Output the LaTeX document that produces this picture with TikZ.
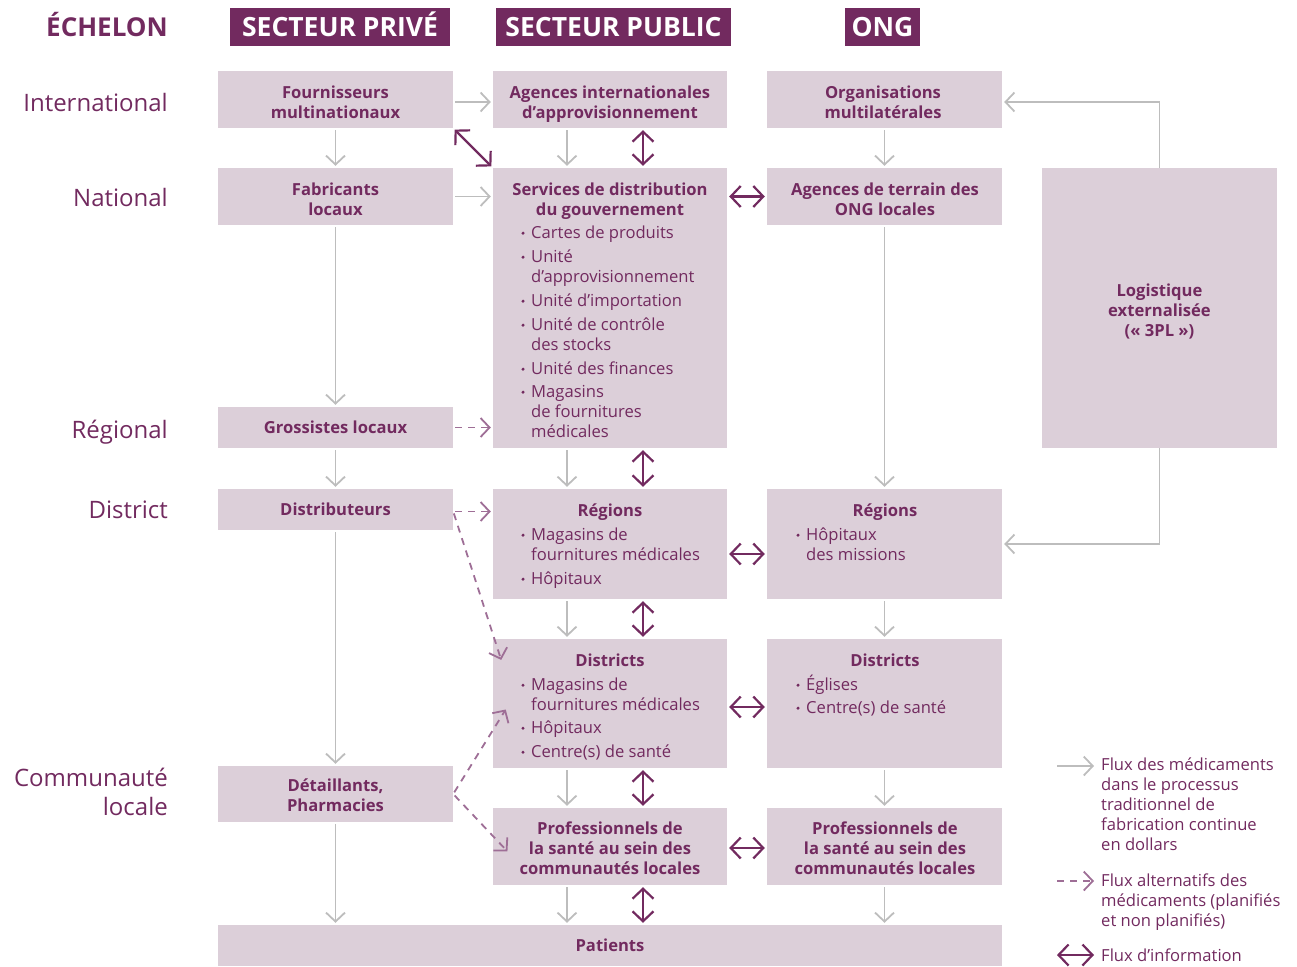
\documentclass[tikz,border=0pt]{standalone}
\usepackage{fontspec}
\setmainfont{Open Sans}
\usetikzlibrary{arrows.meta,calc}
\definecolor{dpurp}{HTML}{722A5F}
\definecolor{boxfill}{HTML}{DCCFD9}
\definecolor{flowgray}{HTML}{BDBDBD}
\definecolor{altpurp}{HTML}{9E6E96}
\newcommand{\bitem}[3]{\fill[dpurp] (#1-8,#2-4.8) circle (1.7pt); \node[btxt] at (#1,#2) {#3};}
\newcommand{\bcont}[3]{\node[btxt] at (#1,#2) {#3};}
\begin{document}
\begin{tikzpicture}[x=1pt,y=-1pt,
  box/.style={fill=boxfill,draw=none,inner sep=0pt},
  hdr/.style={fill=dpurp,draw=none,inner sep=0pt},
  hdrtxt/.style={anchor=base,text=white,inner sep=0pt,font=\fontsize{26.5}{30}\selectfont\bfseries},
  lvl/.style={anchor=base east,text=dpurp,inner sep=0pt,font=\fontsize{24}{29}\selectfont},
  btxt/.style={anchor=base west,text=dpurp,inner sep=0pt,font=\fontsize{16.6}{20}\selectfont},
  ttl/.style={anchor=base,text=dpurp,inner sep=0pt,font=\fontsize{16.6}{20}\selectfont\bfseries},
  flow/.style={draw=flowgray,line width=1.8pt,-{Straight Barb[length=9pt,width=19pt,line width=1.8pt]},shorten <=2pt,shorten >=2pt},
  alt/.style={draw=altpurp,line width=1.8pt,dash pattern=on 7pt off 6pt,-{Straight Barb[length=9pt,width=19pt,line width=1.8pt]},shorten <=2pt,shorten >=2pt},
  info/.style={draw=dpurp,line width=2.2pt,{Straight Barb[length=10pt,width=21pt,line width=2.2pt]}-{Straight Barb[length=10pt,width=21pt,line width=2.2pt]},shorten <=2pt,shorten >=2pt}
]
\useasboundingbox (0,0) rectangle (1297,966);
% headers
\node[anchor=base east,text=dpurp,inner sep=0pt,font=\fontsize{26}{30}\selectfont\bfseries] (ech) at (168,37) {ÉCHELON};
\node[hdr,minimum width=220pt,minimum height=38pt] (hpriv) at (340,27) {};
\node[hdr,minimum width=235pt,minimum height=38pt] (hpub) at (613.5,27) {};
\node[hdr,minimum width=75pt,minimum height=38pt] (hong) at (882.5,27) {};
\node[hdrtxt] at (340,36.5) {SECTEUR PRIVÉ};
\node[hdrtxt] at (613.5,36.5) {SECTEUR PUBLIC};
\node[hdrtxt] at (882.5,36.5) {ONG};
% level labels
\node[lvl] (lint) at (168,111) {International};
\node[lvl] (lnat) at (168,206) {National};
\node[lvl] (lreg) at (168,438) {Régional};
\node[lvl] (ldis) at (168,518) {District};
\node[lvl] (lcom1) at (168,786) {Communauté};
\node[lvl] (lcom2) at (168,815) {locale};
% boxes
\node[box,minimum width=235pt,minimum height=57pt] (fm) at (335.5,99.5) {};
\node[box,minimum width=234pt,minimum height=57pt] (ai) at (610,99.5) {};
\node[box,minimum width=235pt,minimum height=57pt] (om) at (884.5,99.5) {};
\node[box,minimum width=235pt,minimum height=57pt] (fl) at (335.5,196.5) {};
\node[box,minimum width=234pt,minimum height=280pt] (sd) at (610,308) {};
\node[box,minimum width=235pt,minimum height=57pt] (at) at (884.5,196.5) {};
\node[box,minimum width=235pt,minimum height=280pt] (lg) at (1159.5,308) {};
\node[box,minimum width=235pt,minimum height=41pt] (gl) at (335.5,427.5) {};
\node[box,minimum width=235pt,minimum height=41pt] (di) at (335.5,509.5) {};
\node[box,minimum width=234pt,minimum height=110pt] (rp) at (610,544) {};
\node[box,minimum width=235pt,minimum height=110pt] (ro) at (884.5,544) {};
\node[box,minimum width=234pt,minimum height=129pt] (dp) at (610,703.5) {};
\node[box,minimum width=235pt,minimum height=129pt] (do) at (884.5,703.5) {};
\node[box,minimum width=235pt,minimum height=56pt] (dt) at (335.5,794) {};
\node[box,minimum width=234pt,minimum height=77pt] (pp) at (610,846.5) {};
\node[box,minimum width=235pt,minimum height=77pt] (po) at (884.5,846.5) {};
\node[box,minimum width=784pt,minimum height=41pt] (pa) at (610,945.5) {};
% box texts
\node[ttl] at (335.5,98) {Fournisseurs};
\node[ttl] at (335.5,118) {multinationaux};
\node[ttl] at (610,98) {Agences internationales};
\node[ttl] at (610,118) {d’approvisionnement};
\node[ttl] at (883,98) {Organisations};
\node[ttl] at (883,118) {multilatérales};
\node[ttl] at (335.5,195) {Fabricants};
\node[ttl] at (335.5,215) {locaux};
\node[ttl] at (885,195) {Agences de terrain des};
\node[ttl] at (885,215) {ONG locales};
\node[ttl] at (335.5,433) {Grossistes locaux};
\node[ttl] at (335.5,515) {Distributeurs};
\node[ttl] at (335.5,791) {Détaillants,};
\node[ttl] at (335.5,811) {Pharmacies};
\node[ttl] at (610,195) {Services de distribution};
\node[ttl] at (610,215) {du gouvernement};
\bitem{531}{238}{Cartes de produits}
\bitem{531}{262}{Unité}
\bcont{531}{282}{d’approvisionnement}
\bitem{531}{306}{Unité d’importation}
\bitem{531}{330}{Unité de contrôle}
\bcont{531}{350}{des stocks}
\bitem{531}{374}{Unité des finances}
\bitem{531}{397}{Magasins}
\bcont{531}{417}{de fournitures}
\bcont{531}{437}{médicales}
\node[ttl] at (1159.5,296) {Logistique};
\node[ttl] at (1159.5,316) {externalisée};
\node[ttl] at (1159.5,336) {(« 3PL »)};
\node[ttl] at (610,516) {Régions};
\bitem{531}{540}{Magasins de}
\bcont{531}{560}{fournitures médicales}
\bitem{531}{584}{Hôpitaux}
\node[ttl] at (885,516) {Régions};
\bitem{806}{540}{Hôpitaux}
\bcont{806}{560}{des missions}
\node[ttl] at (610,666) {Districts};
\bitem{531}{690}{Magasins de}
\bcont{531}{710}{fournitures médicales}
\bitem{531}{733}{Hôpitaux}
\bitem{531}{757}{Centre(s) de santé}
\node[ttl] at (885,666) {Districts};
\bitem{806}{690}{Églises}
\bitem{806}{713}{Centre(s) de santé}
\node[ttl] at (610,834) {Professionnels de};
\node[ttl] at (610,854) {la santé au sein des};
\node[ttl] at (610,874) {communautés locales};
\node[ttl] at (885,834) {Professionnels de};
\node[ttl] at (885,854) {la santé au sein des};
\node[ttl] at (885,874) {communautés locales};
\node[ttl] at (610,951) {Patients};
% gray flows
\draw[flow] ($(fm.east)+(0,2.5)$) -- ($(ai.west)+(0,2.5)$);
\draw[flow] (fl.east) -- (sd.west |- fl.east);
\draw[flow] (fm.south) -- (fl.north);
\draw[flow] (fl.south) -- (gl.north);
\draw[flow] (gl.south) -- (di.north);
\draw[flow] (di.south) -- (dt.north);
\draw[flow] (dt.south) -- (dt.south |- pa.north);
\draw[flow] ([xshift=-43pt]ai.south) -- ([xshift=-43pt]sd.north);
\draw[flow] ([xshift=-43pt]sd.south) -- ([xshift=-43pt]rp.north);
\draw[flow] ([xshift=-43pt]rp.south) -- ([xshift=-43pt]dp.north);
\draw[flow] ([xshift=-43pt]dp.south) -- ([xshift=-43pt]pp.north);
\draw[flow] ([xshift=-43pt]pp.south) -- ([xshift=-43pt]pp.south |- pa.north);
\draw[flow] (om.south) -- (at.north);
\draw[flow] (at.south) -- (ro.north);
\draw[flow] (ro.south) -- (do.north);
\draw[flow] (do.south) -- (po.north);
\draw[flow] (po.south) -- (po.south |- pa.north);
\draw[flow,shorten <=0pt] (lg.north) |- ($(om.east)+(0,2.5)$);
\draw[flow,shorten <=0pt] (lg.south) |- (ro.east);
% alternative flows
\draw[alt] (gl.east) -- (sd.west |- gl.east);
\draw[alt] ($(di.east)+(0,2)$) -- ($(rp.west |- di.east)+(0,2)$);
\draw[alt] ($(di.east)+(0,2)$) -- ($(dp.north west)+(9,23)$);
\draw[alt] (dt.east) -- ($(dp.north west)+(14,69)$);
\draw[alt] (dt.east) -- ($(pp.north west)+(16,45)$);
% information flows
\draw[info] (fm.south east) -- (sd.north west);
\draw[info] ([xshift=33pt]ai.south) -- ([xshift=33pt]sd.north);
\draw[info] ([xshift=33pt]sd.south) -- ([xshift=33pt]rp.north);
\draw[info] ([xshift=33pt]rp.south) -- ([xshift=33pt]dp.north);
\draw[info] ([xshift=33pt]dp.south) -- ([xshift=33pt]pp.north);
\draw[info] ([xshift=33pt]pp.south) -- ([xshift=33pt]pp.south |- pa.north);
\draw[info] (sd.east |- at.west) -- (at.west);
\draw[info] ($(rp.east)+(0,10)$) -- ($(ro.west)+(0,10)$);
\draw[info] ($(dp.east)+(0,3.5)$) -- ($(do.west)+(0,3.5)$);
\draw[info] ($(pp.east)+(0,1.5)$) -- ($(po.west)+(0,1.5)$);
% legend
\coordinate (l1a) at (1055,766); \coordinate (l1b) at (1096,766);
\coordinate (l2a) at (1055,881); \coordinate (l2b) at (1096,881);
\coordinate (l3a) at (1055,955); \coordinate (l3b) at (1096,955);
\draw[flow] (l1a) -- (l1b);
\draw[alt] (l2a) -- (l2b);
\draw[info] (l3a) -- (l3b);
\node[btxt] at (1101,770) {Flux des médicaments};
\node[btxt] at (1101,790) {dans le processus};
\node[btxt] at (1101,810) {traditionnel de};
\node[btxt] at (1101,830) {fabrication continue};
\node[btxt] at (1101,850) {en dollars};
\node[btxt] at (1101,886) {Flux alternatifs des};
\node[btxt] at (1101,906) {médicaments (planifiés};
\node[btxt] at (1101,926) {et non planifiés)};
\node[btxt] at (1101,961) {Flux d’information};
\end{tikzpicture}
\end{document}
